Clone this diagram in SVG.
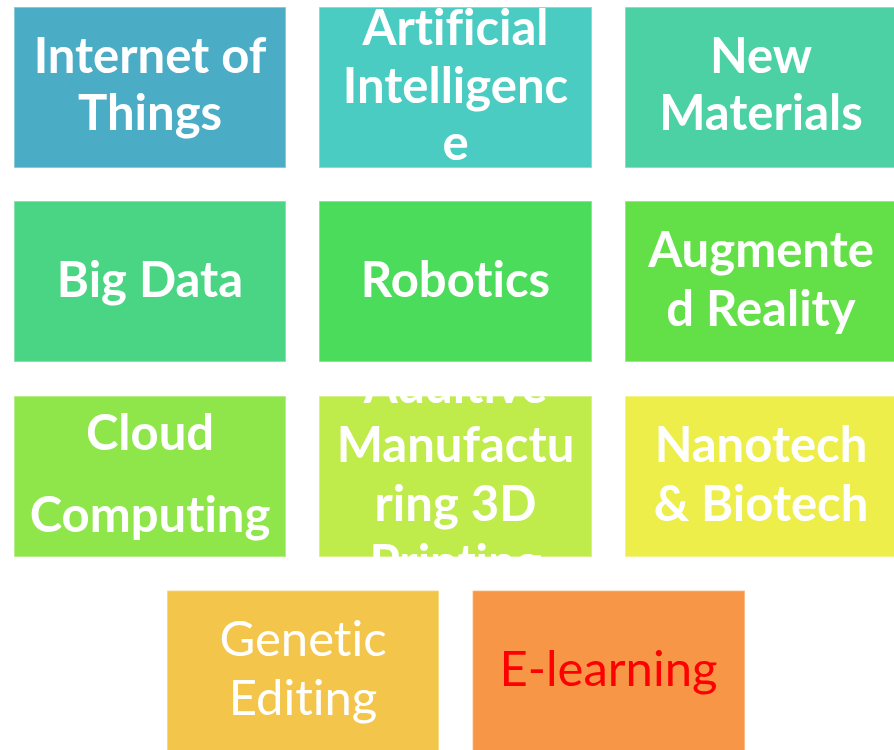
<svg xmlns="http://www.w3.org/2000/svg" width="894" height="750" viewBox="0 0 894 750">
<style>
.box{stroke:#ffffff;stroke-opacity:0.45;stroke-width:1.5}
.b{font-family:Lato,"Open Sans","Liberation Sans",sans-serif;font-weight:bold;font-size:49px;fill:#ffffff;text-anchor:middle;font-variant-ligatures:none;font-feature-settings:"liga" 0}
.r{font-family:Lato,"Open Sans","Liberation Sans",sans-serif;font-weight:normal;font-size:49px;fill:#ffffff;text-anchor:middle;font-variant-ligatures:none;font-feature-settings:"liga" 0}
</style>
<defs>
<clipPath id="clipAM"><rect x="319" y="396" width="273" height="161"/></clipPath>
</defs>
<rect width="894" height="750" fill="#ffffff"/>
<g id="iot">
<rect class="box" x="14" y="7" width="272" height="161" fill="#4BACC6"/>
<text class="b" x="150" y="72.7">Internet of</text>
<text class="b" x="150" y="130">Things</text>
</g>
<g id="ai">
<rect class="box" x="319" y="7" width="273" height="161" fill="#4BCCC2"/>
<text class="b" x="455.5" y="44.5">Artificial</text>
<text class="b" x="455.5" y="102.7">Intelligenc</text>
<text class="b" x="455.5" y="160">e</text>
</g>
<g id="newmaterials">
<rect class="box" x="625" y="7" width="272" height="161" fill="#4BD1A4"/>
<text class="b" x="761" y="72.7">New</text>
<text class="b" x="761" y="130">Materials</text>
</g>
<g id="bigdata">
<rect class="box" x="14" y="201" width="272" height="161" fill="#4AD584"/>
<text class="b" x="150" y="296.7">Big Data</text>
</g>
<g id="robotics">
<rect class="box" x="319" y="201" width="273" height="161" fill="#4ADC5A"/>
<text class="b" x="455.5" y="296.7">Robotics</text>
</g>
<g id="ar">
<rect class="box" x="625" y="201" width="272" height="161" fill="#63E047"/>
<text class="b" x="761" y="266.7">Augmente</text>
<text class="b" x="761" y="326">d Reality</text>
</g>
<g id="cloud">
<rect class="box" x="14" y="396" width="272" height="161" fill="#8FE64A"/>
<text class="b" x="150" y="450">Cloud</text>
<text class="b" x="150" y="532">Computing</text>
</g>
<g id="additive">
<rect class="box" x="319" y="396" width="273" height="161" fill="#BFEB4B"/>
<g clip-path="url(#clipAM)">
<text class="b" x="455.5" y="402.7">Additive</text>
<text class="b" x="455.5" y="461.7">Manufactu</text>
<text class="b" x="455.5" y="520.7">ring 3D</text>
<text class="b" x="455.5" y="579.7">Printing</text>
</g>
</g>
<g id="nanotech">
<rect class="box" x="625" y="396" width="272" height="161" fill="#EDEE4A"/>
<text class="b" x="761" y="461.7">Nanotech</text>
<text class="b" x="761" y="520.7">&amp; Biotech</text>
</g>
<g id="genetic">
<rect class="box" x="167" y="590.5" width="272" height="161" fill="#F4C54B"/>
<text class="r" x="303" y="656">Genetic</text>
<text class="r" x="303" y="715">Editing</text>
</g>
<g id="elearning">
<rect class="box" x="472.5" y="590.5" width="272.5" height="161" fill="#F79646"/>
<text class="r" x="608.5" y="685.7" style="fill:#FF0000">E-learning</text>
</g>
<g id="connectors"/>
</svg>
